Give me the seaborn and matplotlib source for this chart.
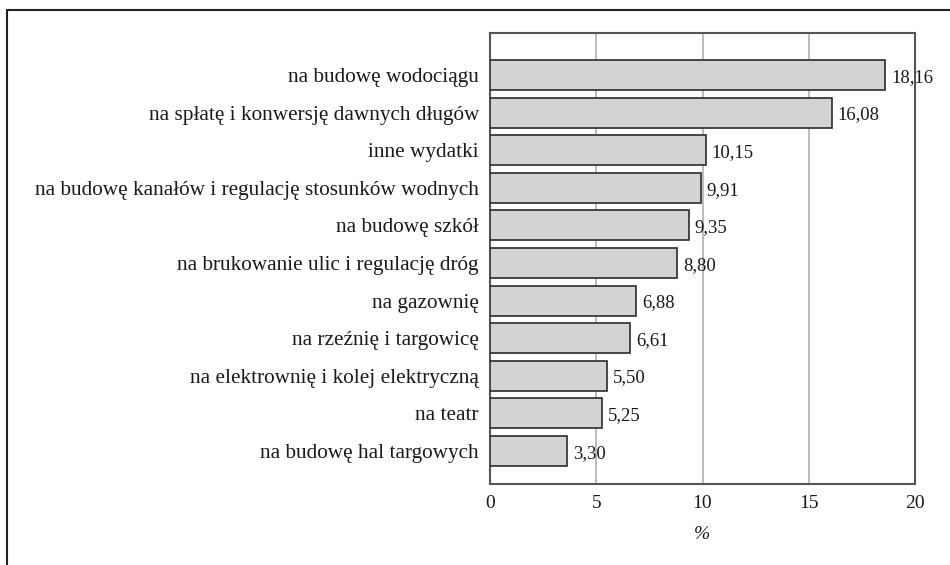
import matplotlib
matplotlib.use("Agg")
import matplotlib.pyplot as plt
import seaborn as sns
from matplotlib.lines import Line2D

# Categories (top to bottom), printed shares and bar lengths as drawn in the picture
categories = [
    "na budowę wodociągu",
    "na spłatę i konwersję dawnych długów",
    "inne wydatki",
    "na budowę kanałów i regulację stosunków wodnych",
    "na budowę szkół",
    "na brukowanie ulic i regulację dróg",
    "na gazownię",
    "na rzeźnię i targowicę",
    "na elektrownię i kolej elektryczną",
    "na teatr",
    "na budowę hal targowych",
]
shares = ["18,16", "16,08", "10,15", "9,91", "9,35", "8,80", "6,88", "6,61", "5,50", "5,25", "3,30"]
bar_lengths = [18.6, 16.08, 10.15, 9.91, 9.35, 8.80, 6.88, 6.61, 5.50, 5.25, 3.62]
x_ticks = [0, 5, 10, 15, 20]

sns.set_style("white")
plt.rcParams["font.family"] = ["Liberation Serif", "DejaVu Serif"]

fig = plt.figure(figsize=(9.5, 5.65), dpi=100)
ax = fig.add_axes([490 / 950, 1 - 484 / 565, 425 / 950, 451 / 565])

sns.barplot(x=bar_lengths, y=categories, orient="h", color="#d3d3d3",
            edgecolor="#2b2b2b", linewidth=1.2, width=0.8, saturation=1, ax=ax, zorder=3)

# value labels
for i, (v, s) in enumerate(zip(bar_lengths, shares)):
    ax.text(v + 0.28, i + 0.06, s, va="center", ha="left", fontsize=13.5, color="#1a1a1a", zorder=4)

ax.set_xlim(0, 20)
ax.set_ylim(10.88, -1.12)
ax.set_xticks(x_ticks)
ax.set_xticklabels([str(t) for t in x_ticks], fontsize=14, color="#1a1a1a")
ax.tick_params(axis="y", labelsize=15.3, labelcolor="#1a1a1a", length=0, pad=8)
ax.tick_params(axis="x", length=0, pad=8)
ax.set_ylabel("")
ax.set_xlabel("%", fontsize=14, style="italic", labelpad=10, color="#1a1a1a")

for t in [5, 10, 15]:
    ax.axvline(t, color="#b0b0b0", lw=1.2, zorder=1)
for sp in ax.spines.values():
    sp.set_color("#555555")
    sp.set_linewidth(1.5)

# outer frame (left and top edges visible)
fig.add_artist(Line2D([7 / 950, 7 / 950], [0, 1 - 10 / 565], transform=fig.transFigure,
                      color="#222222", lw=1.5))
fig.add_artist(Line2D([7 / 950, 1], [1 - 10 / 565, 1 - 10 / 565], transform=fig.transFigure,
                      color="#222222", lw=1.5))

fig.savefig("out.png", dpi=100)
